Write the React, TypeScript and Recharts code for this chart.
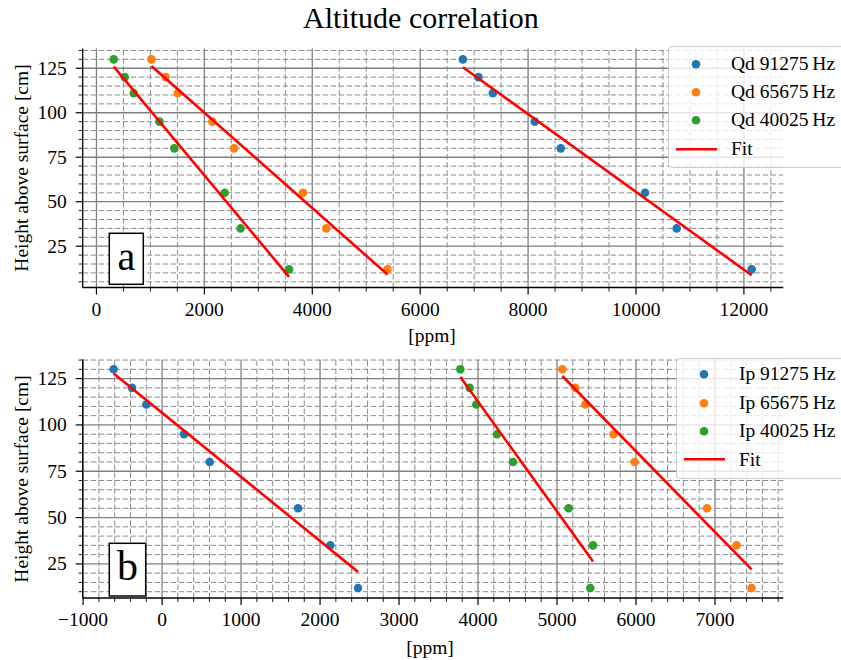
import React from 'react';
import { ComposedChart, Scatter, XAxis, YAxis, ReferenceLine, Legend } from 'recharts';

const FONT = '"Liberation Serif", "Times New Roman", serif';
const BLUE = '#1f77b4';
const ORANGE = '#ff7f0e';
const GREEN = '#2ca02c';
const RED = '#ff0000';

// Heights above surface (cm), shared by every series
const heights = [130, 120, 111, 95, 80, 55, 35, 12];

// Panel a: Qd [ppm]
const qd91275 = [6791, 7080, 7346, 8124, 8606, 10167, 10754, 12143];
const qd65675 = [1019, 1283, 1506, 2148, 2550, 3828, 4259, 5394];
const qd40025 = [320, 524, 691, 1167, 1444, 2376, 2672, 3569];
const qdFit91275X = [6791, 12143];
const qdFit91275Y = [125.6, 8.7];
const qdFit65675X = [1019, 5394];
const qdFit65675Y = [126.3, 9.1];
const qdFit40025X = [320, 3569];
const qdFit40025Y = [125.9, 7.8];

// Panel b: Ip [ppm]
const ip91275 = [-613, -380, -199, 278, 603, 1722, 2130, 2481];
const ip65675 = [5067, 5232, 5358, 5716, 5982, 6899, 7274, 7463];
const ip40025 = [3776, 3894, 3978, 4241, 4443, 5147, 5456, 5422];
const ipFit91275X = [-613, 2481];
const ipFit91275Y = [127.8, 20.7];
const ipFit65675X = [5067, 7463];
const ipFit65675Y = [126.4, 22.0];
const ipFit40025X = [3776, 5456];
const ipFit40025Y = [125.8, 26.3];

// Tick values
const qdXTicks = [0, 500, 1000, 1500, 2000, 2500, 3000, 3500, 4000, 4500, 5000, 5500, 6000, 6500, 7000, 7500, 8000, 8500, 9000, 9500, 10000, 10500, 11000, 11500, 12000, 12500];
const qdXMajor = [0, 2000, 4000, 6000, 8000, 10000, 12000];
const ipXTicks = [-1000, -800, -600, -400, -200, 0, 200, 400, 600, 800, 1000, 1200, 1400, 1600, 1800, 2000, 2200, 2400, 2600, 2800, 3000, 3200, 3400, 3600, 3800, 4000, 4200, 4400, 4600, 4800, 5000, 5200, 5400, 5600, 5800, 6000, 6200, 6400, 6600, 6800, 7000, 7200, 7400, 7600, 7800];
const ipXMajor = [-1000, 0, 1000, 2000, 3000, 4000, 5000, 6000, 7000];
const qdYTicks = [5, 10, 15, 20, 25, 30, 35, 40, 45, 50, 55, 60, 65, 70, 75, 80, 85, 90, 95, 100, 105, 110, 115, 120, 125, 130, 135];
const ipYTicks = [10, 15, 20, 25, 30, 35, 40, 45, 50, 55, 60, 65, 70, 75, 80, 85, 90, 95, 100, 105, 110, 115, 120, 125, 130, 135];
const yMajor = [25, 50, 75, 100, 125];

const qdLabels = ['Qd 91275\u2009Hz', 'Qd 65675\u2009Hz', 'Qd 40025\u2009Hz', 'Fit'];
const ipLabels = ['Ip 91275\u2009Hz', 'Ip 65675\u2009Hz', 'Ip 40025\u2009Hz', 'Fit'];

const toPoints = (xs: number[], ys: number[]) => xs.map((x, i) => ({ x, y: ys[i] }));

const fmt = (v: number) => (v < 0 ? '\u2212' + Math.abs(v) : String(v));

const makeXTick = (major: number[]) => (p: any) => {
  const v = p.payload.value;
  const isMajor = major.includes(v);
  const len = isMajor ? 7 : 4;
  return (
    <g>
      <line x1={p.x} x2={p.x} y1={p.y} y2={p.y + len} stroke="#000" strokeWidth={isMajor ? 1.2 : 0.9} />
      {isMajor && (
        <text x={p.x} y={p.y + 28} textAnchor="middle" fontFamily={FONT} fontSize={19.5} fill="#000">
          {fmt(v)}
        </text>
      )}
    </g>
  );
};

const makeYTick = (major: number[]) => (p: any) => {
  const v = p.payload.value;
  const isMajor = major.includes(v);
  const len = isMajor ? 7 : 4;
  return (
    <g>
      <line x1={p.x} x2={p.x - len} y1={p.y} y2={p.y} stroke="#000" strokeWidth={isMajor ? 1.2 : 0.9} />
      {isMajor && (
        <text x={p.x - 16} y={p.y + 6.5} textAnchor="end" fontFamily={FONT} fontSize={19.5} fill="#000">
          {fmt(v)}
        </text>
      )}
    </g>
  );
};

const Dot = (color: string) => (p: any) => <circle cx={p.cx} cy={p.cy} r={4.3} fill={color} />;
const NoShape = () => <g />;

type SeriesDef = { color: string; xs: number[]; fitX: number[]; fitY: number[] };

function LegendBox({ labels, padTop }: { labels: string[]; padTop: number }) {
  const colors = [BLUE, ORANGE, GREEN];
  return (
    <div
      style={{
        width: 200,
        boxSizing: 'border-box',
        paddingTop: padTop,
        paddingBottom: 4,
        background: 'rgba(255,255,255,0.8)',
        border: '1px solid #cccccc',
        borderRadius: 4,
        fontFamily: FONT,
        fontSize: 19.5,
        color: '#000',
      }}
    >
      {labels.map((lab, i) => (
        <div key={lab} style={{ position: 'relative', height: 28.4 }}>
          {i < 3 ? (
            <svg width={60} height={28.4} style={{ position: 'absolute', left: 0, top: 0 }}>
              <circle cx={27} cy={14.2} r={4.3} fill={colors[i]} />
            </svg>
          ) : (
            <svg width={60} height={28.4} style={{ position: 'absolute', left: 0, top: 0 }}>
              <line x1={7} x2={48} y1={14.2} y2={14.2} stroke={RED} strokeWidth={2.6} />
            </svg>
          )}
          <span style={{ position: 'absolute', left: 62, top: 14.2, transform: 'translateY(-50%)', whiteSpace: 'nowrap', lineHeight: '20px' }}>
            {lab}
          </span>
        </div>
      ))}
    </div>
  );
}

function Panel(props: {
  top: number;
  height: number;
  plotTop: number;
  plotBottom: number;
  xDomain: number[];
  yDomain: number[];
  xTicks: number[];
  xMajor: number[];
  yTicks: number[];
  series: SeriesDef[];
  labels: string[];
  legendLeft: number;
  legendTop: number;
  legendPad: number;
}) {
  const { top, height, plotTop, plotBottom, xDomain, yDomain, xTicks, xMajor, yTicks, series, labels } = props;
  const xIn = xTicks.filter((v) => v >= xDomain[0] && v <= xDomain[1]);
  const yIn = yTicks.filter((v) => v >= yDomain[0] && v <= yDomain[1]);
  return (
    <div style={{ position: 'absolute', left: 0, top, width: 841, height }}>
      <ComposedChart width={841} height={height} margin={{ top: plotTop - top, right: 57.7, bottom: 0, left: 0 }}>
        <XAxis
          type="number"
          dataKey="x"
          domain={xDomain}
          allowDataOverflow
          ticks={xIn}
          interval={0}
          tickSize={0}
          tickMargin={0}
          tickLine={false}
          axisLine={{ stroke: '#000', strokeWidth: 1.3 }}
          tick={makeXTick(xMajor)}
          height={top + height - plotBottom}
        />
        <XAxis
          xAxisId="top"
          orientation="top"
          type="number"
          domain={xDomain}
          allowDataOverflow
          tick={false}
          tickLine={false}
          axisLine={{ stroke: '#000', strokeWidth: 1.3 }}
          height={0}
        />
        <YAxis
          type="number"
          dataKey="y"
          domain={yDomain}
          allowDataOverflow
          ticks={yIn}
          interval={0}
          tickSize={0}
          tickMargin={0}
          tickLine={false}
          axisLine={{ stroke: '#000', strokeWidth: 1.3 }}
          tick={makeYTick(yMajor)}
          width={82.7}
        />
        <YAxis
          yAxisId="right"
          orientation="right"
          type="number"
          domain={yDomain}
          allowDataOverflow
          tick={false}
          tickLine={false}
          axisLine={{ stroke: '#000', strokeWidth: 1.3 }}
          width={0}
        />
        {xIn.map((v) =>
          xMajor.includes(v) ? (
            <ReferenceLine key={'xg' + v} x={v} stroke="#808080" strokeWidth={1.3} />
          ) : (
            <ReferenceLine key={'xg' + v} x={v} stroke="#8c8c8c" strokeWidth={1} strokeDasharray="5.5 2.5" />
          )
        )}
        {yIn.map((v) =>
          yMajor.includes(v) ? (
            <ReferenceLine key={'yg' + v} y={v} stroke="#808080" strokeWidth={1.3} />
          ) : (
            <ReferenceLine key={'yg' + v} y={v} stroke="#8c8c8c" strokeWidth={1} strokeDasharray="5.5 2.5" />
          )
        )}
        {series.map((s, i) => (
          <Scatter
            key={'pts' + i}
            data={toPoints(s.xs, heights)}
            dataKey="y"
            fill={s.color}
            shape={Dot(s.color)}
            isAnimationActive={false}
          />
        ))}
        {series.map((s, i) => (
          <Scatter
            key={'fit' + i}
            data={toPoints(s.fitX, s.fitY)}
            dataKey="y"
            fill={RED}
            shape={NoShape}
            line={{ stroke: RED, strokeWidth: 2.6 }}
            isAnimationActive={false}
          />
        ))}
        <Legend
          layout="vertical"
          align="center"
          verticalAlign="middle"
          wrapperStyle={{ left: props.legendLeft, top: props.legendTop - top, width: 200 }}
          content={() => <LegendBox labels={labels} padTop={props.legendPad} />}
        />
      </ComposedChart>
    </div>
  );
}

const qdSeries: SeriesDef[] = [
  { color: BLUE, xs: qd91275, fitX: qdFit91275X, fitY: qdFit91275Y },
  { color: ORANGE, xs: qd65675, fitX: qdFit65675X, fitY: qdFit65675Y },
  { color: GREEN, xs: qd40025, fitX: qdFit40025X, fitY: qdFit40025Y },
];
const ipSeries: SeriesDef[] = [
  { color: BLUE, xs: ip91275, fitX: ipFit91275X, fitY: ipFit91275Y },
  { color: ORANGE, xs: ip65675, fitX: ipFit65675X, fitY: ipFit65675Y },
  { color: GREEN, xs: ip40025, fitX: ipFit40025X, fitY: ipFit40025Y },
];

export default function App() {
  return (
    <div style={{ position: 'absolute', left: 0, top: 0, width: 841, height: 660, overflow: 'hidden', background: '#fff' }}>
      <Panel
        top={0}
        height={345}
        plotTop={48.5}
        plotBottom={287.5}
        xDomain={[-255, 12730]}
        yDomain={[1.8, 136.1]}
        xTicks={qdXTicks}
        xMajor={qdXMajor}
        yTicks={qdYTicks}
        series={qdSeries}
        labels={qdLabels}
        legendLeft={668}
        legendTop={46}
        legendPad={2.5}
      />
      <Panel
        top={345}
        height={315}
        plotTop={359.5}
        plotBottom={598}
        xDomain={[-1005, 7865]}
        yDomain={[6.6, 135.3]}
        xTicks={ipXTicks}
        xMajor={ipXMajor}
        yTicks={ipYTicks}
        series={ipSeries}
        labels={ipLabels}
        legendLeft={676}
        legendTop={358.3}
        legendPad={1}
      />
      <svg width={841} height={660} style={{ position: 'absolute', left: 0, top: 0, pointerEvents: 'none' }}>
        <text x={421} y={28} textAnchor="middle" fontFamily={FONT} fontSize={30} fill="#000">
          Altitude correlation
        </text>
        <text transform="translate(28,168) rotate(-90)" textAnchor="middle" fontFamily={FONT} fontSize={19.5} fill="#000">
          Height above surface [cm]
        </text>
        <text transform="translate(28,479) rotate(-90)" textAnchor="middle" fontFamily={FONT} fontSize={19.5} fill="#000">
          Height above surface [cm]
        </text>
        <text x={432} y={342} textAnchor="middle" fontFamily={FONT} fontSize={19.5} fill="#000">
          [ppm]
        </text>
        <text x={430} y={654} textAnchor="middle" fontFamily={FONT} fontSize={19.5} fill="#000">
          [ppm]
        </text>
        <rect x={109.3} y={233.3} width={34} height={51} fill="#fff" stroke="#000" strokeWidth={1.5} />
        <text x={126.3} y={270} textAnchor="middle" fontFamily={FONT} fontSize={40} fill="#000">
          a
        </text>
        <rect x={109.3} y={543.3} width={36.4} height={52.7} fill="#fff" stroke="#000" strokeWidth={1.5} />
        <text x={127.5} y={580} textAnchor="middle" fontFamily={FONT} fontSize={42} fill="#000">
          b
        </text>
      </svg>
    </div>
  );
}
